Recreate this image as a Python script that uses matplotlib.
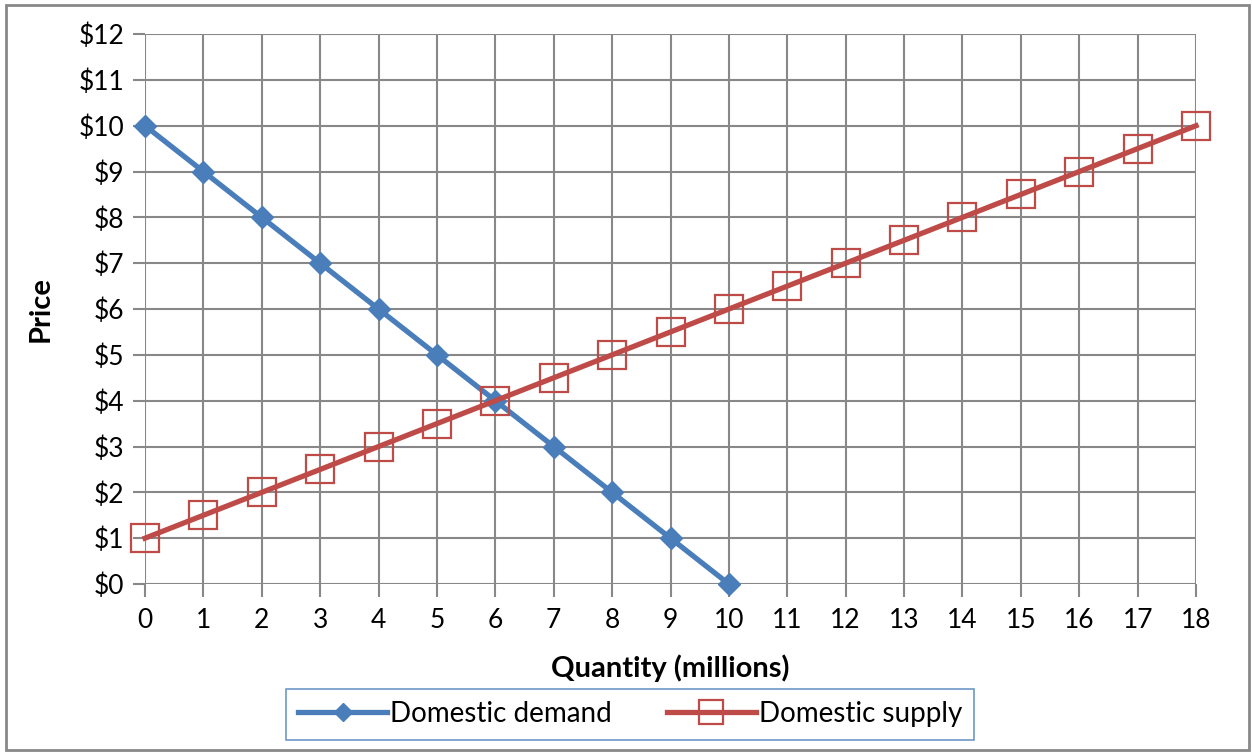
import matplotlib.pyplot as plt
from matplotlib.patches import Rectangle

plt.rcParams['font.family'] = ['Lato', 'DejaVu Sans']

# quantities (millions) and prices
demand_qty = [0, 1, 2, 3, 4, 5, 6, 7, 8, 9, 10]
demand_price = [10, 9, 8, 7, 6, 5, 4, 3, 2, 1, 0]
supply_qty = [0, 1, 2, 3, 4, 5, 6, 7, 8, 9, 10, 11, 12, 13, 14, 15, 16, 17, 18]
supply_price = [1, 1.5, 2, 2.5, 3, 3.5, 4, 4.5, 5, 5.5, 6, 6.5, 7, 7.5, 8, 8.5, 9, 9.5, 10]
price_ticks = list(range(0, 13))
qty_ticks = list(range(0, 19))

BLUE = '#4A7EBB'
RED = '#BE4B48'
GRID = '#888888'

fig = plt.figure(figsize=(12.52, 7.53), dpi=100)
ax = fig.add_axes([0.1158, 0.2244, 0.8395, 0.7304])

ax.plot(demand_qty, demand_price, color=BLUE, lw=3.8, marker='D',
        markersize=11, markerfacecolor=BLUE, markeredgecolor=BLUE,
        label='Domestic demand', zorder=3, clip_on=False)
ax.plot(supply_qty, supply_price, color=RED, lw=3.8, marker='s',
        markersize=20, markerfacecolor='none', markeredgecolor=RED,
        markeredgewidth=1.6, label='Domestic supply', zorder=4, clip_on=False)

ax.set_xlim(0, 18)
ax.set_ylim(0, 12)
ax.set_xticks(qty_ticks)
ax.set_yticks(price_ticks)
ax.set_yticklabels([f'${p}' for p in price_ticks])
ax.grid(True, color=GRID, lw=1.5)
ax.set_axisbelow(True)
for s in ax.spines.values():
    s.set_visible(False)
ax.tick_params(axis='both', colors=GRID, labelcolor='black', labelsize=19,
               length=9, width=1.5)
ax.tick_params(axis='x', pad=8)
ax.tick_params(axis='y', pad=6)

ax.set_xlabel('Quantity (millions)', fontsize=21, fontweight='bold', labelpad=16)
ax.set_ylabel('Price', fontsize=21, fontweight='bold', labelpad=18)

leg = fig.legend(loc='center', bbox_to_anchor=(630 / 1252, 1 - 714 / 753),
                 ncol=2, fontsize=20, frameon=True, fancybox=False,
                 handlelength=3.2, columnspacing=2.0, handletextpad=0.1,
                 borderpad=0.45, markerscale=0.85, borderaxespad=0)
leg.get_frame().set_edgecolor(BLUE)
leg.get_frame().set_linewidth(1.2)

# outer chart border
fig.patches.append(Rectangle((6 / 1252, 1 - 750 / 753), 1243 / 1252, 745 / 753,
                             transform=fig.transFigure, fill=False,
                             edgecolor='#888888', lw=2))

fig.savefig('out.png', dpi=100)
